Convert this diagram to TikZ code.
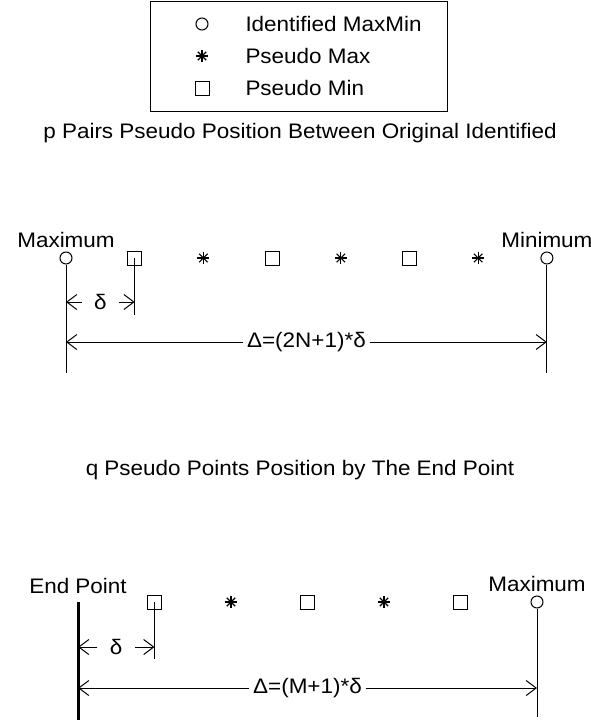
\documentclass[tikz,border=0pt]{standalone}
\usepackage{fontspec}
\setmainfont{Liberation Sans}[FakeStretch=1.07]
\usetikzlibrary{arrows.meta,positioning}

\tikzset{
  ident/.style={draw,circle,inner sep=0pt,minimum size=12pt},
  pmin/.style={draw,rectangle,inner sep=0pt,minimum size=14pt},
  pmax/.style={circle,inner sep=0pt,minimum size=13pt,path picture={
      \foreach \ang in {0,45,90,135}
        \draw[line width=1.1pt] (path picture bounding box.center) ++(\ang:6pt) -- ++(\ang+180:12pt);}},
  endline/.style={line width=3pt},
}

\begin{document}
\begin{tikzpicture}[x=1pt,y=-1pt,>={Straight Barb[length=10pt,width=15pt]},
    line width=1pt,font=\fontsize{21}{25}\selectfont]
    \useasboundingbox (0,0) rectangle (591,720);

    % legend
    \draw (150,1) rectangle (447,111);
    \node[ident] (k1) at (202,24) {};
    \node[pmax] (k2) at (202,56) {};
    \node[pmin] (k3) at (202,88) {};
    \node[anchor=west,inner xsep=0pt] (k1t) at (245,24) {Identified MaxMin};
    \node[anchor=west,inner xsep=0pt] (k2t) at (245,56) {Pseudo Max};
    \node[anchor=west,inner xsep=0pt] (k3t) at (245,88) {Pseudo Min};

    % p pairs between identified points
    \node (t1) at (300,133) {p Pairs Pseudo Position Between Original Identified};

    \begin{scope}[node distance=68.7pt]
    \node[ident] (a0) at (66,258) {};
    \node[pmin] (a1) [right of=a0] {};
    \node[pmax] (a2) [right of=a1] {};
    \node[pmin] (a3) [right of=a2] {};
    \node[pmax] (a4) [right of=a3] {};
    \node[pmin] (a5) [right of=a4] {};
    \node[pmax] (a6) [right of=a5] {};
    \node[ident] (a7) [right of=a6] {};
    \end{scope}
    \node (lmax) [above=0pt of a0] {Maximum};
    \node (lmin) [above=0pt of a7] {Minimum};

    \coordinate (a0b) at (a0 |- 0,373);
    \coordinate (a1b) at (a1 |- 0,315);
    \coordinate (a7b) at (a7 |- 0,373);
    \draw (a0.south) -- (a0b);
    \draw (a1.center) -- (a1b);
    \draw (a7.south) -- (a7b);

    \path (a0 |- 0,302) -- (a1 |- 0,302) node[midway,inner xsep=12pt] (d1) {δ};
    \draw[->] (d1) -- (a0 |- d1);
    \draw[->] (d1) -- (a1 |- d1);

    \path (a0 |- 0,342) -- (a7 |- 0,342) node[midway] (w1) {Δ=(2N+1)*δ};
    \draw[->] (w1) -- (a0 |- w1);
    \draw[->] (w1) -- (a7 |- w1);

    % q points by the end point
    \node (t2) at (300,470) {q Pseudo Points Position by The End Point};

    \begin{scope}[node distance=76.5pt]
    \coordinate (e0) at (78,602);
    \node[pmin] (b1) [right of=e0] {};
    \node[pmax] (b2) [right of=b1] {};
    \node[pmin] (b3) [right of=b2] {};
    \node[pmax] (b4) [right of=b3] {};
    \node[pmin] (b5) [right of=b4] {};
    \node[ident] (b6) [right of=b5] {};
    \end{scope}
    \node (lend) [above=4pt of e0] {End Point};
    \node (lmax2) [above=0pt of b6] {Maximum};

    \coordinate (e0b) at (e0 |- 0,720);
    \coordinate (b1b) at (b1 |- 0,659);
    \coordinate (b6b) at (b6 |- 0,717);
    \draw[endline] (e0) -- (e0b);
    \draw (b1.center) -- (b1b);
    \draw (b6.south) -- (b6b);

    \path (e0 |- 0,647) -- (b1 |- 0,647) node[midway,inner xsep=12pt] (d2) {δ};
    \draw[->] (d2) -- (e0 |- d2);
    \draw[->] (d2) -- (b1 |- d2);

    \path (e0 |- 0,688) -- (b6 |- 0,688) node[midway] (w2) {Δ=(M+1)*δ};
    \draw[->] (w2) -- (e0 |- w2);
    \draw[->] (w2) -- (b6 |- w2);
\end{tikzpicture}
\end{document}
